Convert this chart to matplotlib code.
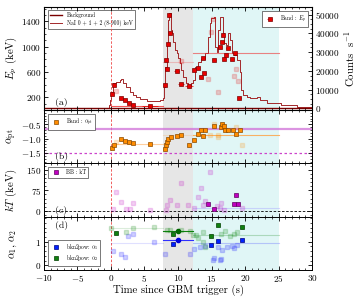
import numpy as np
import matplotlib
matplotlib.use("Agg")
import matplotlib.pyplot as plt
from matplotlib.ticker import MultipleLocator, FixedLocator

plt.rcParams.update({
    "font.family": "serif",
    "font.serif": ["cmr10", "DejaVu Serif"],
    "mathtext.fontset": "cm",
    "axes.formatter.use_mathtext": True,
    "axes.unicode_minus": True,
    "font.size": 7,
})

# ---------------- data ----------------
# light curve (counts/s)
lc_t = [-10, -0.3, -0.1, 0.06, 0.3, 0.8, 1.3, 1.55, 1.8, 2.3, 2.8, 3.3, 3.8, 4.3, 5.3,
        6.3, 7.3, 7.7, 7.9, 8.05, 8.3, 8.55, 8.7, 8.9, 9.05, 9.3, 9.55, 9.8, 10.0, 10.3,
        10.5, 10.75, 11.2, 11.5, 11.9, 12.2, 12.5, 13.0, 13.5, 14.0, 14.4, 14.7, 14.9,
        15.3, 15.5, 15.8, 16.0, 16.3, 16.5, 16.7, 16.9, 17.2, 17.4, 17.8, 18.0, 18.3,
        18.8, 19.2, 19.4, 19.7, 20.3, 20.8, 21.8, 22.3, 23.3, 25.3, 27.8, 30]
lc_c = [400, 1500, 4500, 8900, 13400, 14200, 15100, 15500, 13700, 11200, 8900, 7100,
        5900, 4800, 4100, 3900, 4400, 5350, 11500, 22300, 34800, 47200, 50800, 41900,
        40100, 35600, 31200, 29400, 26700, 24100, 20500, 16900, 13400, 12500, 13400,
        15100, 22300, 24900, 26200, 29400, 38300, 45500, 48200, 49000, 33000, 30300,
        41900, 49000, 49000, 40100, 34800, 33900, 40100, 36500, 29400, 28500, 25800,
        19600, 9800, 7100, 6200, 5350, 5900, 4400, 2700, 1600, 860, 530]
bkg_level = 300

# episodes
episodes = [(0.0, 7.8), (7.8, 12.2), (12.2, 25.0)]

# Band Ep (solid)
ep_t = [0.15, 0.4, 1.55, 2.15, 2.7, 3.3, 5.8, 8.04, 8.15, 8.3, 8.53, 8.64, 8.8, 9.8,
        10.43, 11.63, 12.4, 13.0, 13.43, 13.7, 13.9, 15.4, 16.3, 16.5, 16.7, 16.9,
        17.1, 17.4, 18.1, 18.5, 19.16]
ep_val = [254, 400, 190, 153, 112, 85, 58, 390, 795, 653, 1048, 1495, 1217, 622, 412,
          380, 626, 664, 522, 822, 585, 785, 990, 1075, 1180, 806, 863, 980, 806, 901, 190]
ep_terr = [0.15, 0.15, 0.3, 0.3, 0.3, 0.3, 1.2, 0.1, 0.1, 0.1, 0.1, 0.1, 0.1, 0.4,
           0.4, 0.6, 0.2, 0.2, 0.2, 0.2, 0.2, 0.3, 0.15, 0.15, 0.15, 0.15, 0.15, 0.2,
           0.2, 0.2, 0.2]
# Ep (faded, other model)
ep_f_t = [0.8, 10.5, 14.4, 14.9, 15.2, 15.9, 18.4, 18.7, 19.0]
ep_f_val = [295, 770, 490, 1233, 1438, 280, 530, 650, 453]
# time-integrated Ep per episode
ep_epi = [58, 760, 901]

# Band alpha (solid)
a_t = [0.15, 0.45, 1.45, 2.15, 2.75, 3.35, 5.85, 8.04, 8.14, 8.3, 8.53, 8.94, 9.8,
       10.5, 11.6, 12.4, 13.0, 13.5, 13.7, 14.0, 15.4, 16.4, 16.6, 16.8, 17.0, 17.5,
       18.2, 18.6, 19.2]
a_val = [-1.33, -1.23, -1.03, -1.08, -1.12, -1.16, -1.20, -1.35, -1.23, -1.12, -1.00,
         -0.94, -0.92, -0.88, -1.23, -1.06, -0.85, -0.71, -0.92, -0.71, -0.57, -0.59,
         -0.50, -0.57, -0.69, -0.69, -0.69, -0.85, -0.71]
a_f_t = [0.8, 14.8, 15.3, 15.9, 16.0, 18.7, 19.5]
a_f_val = [-1.12, -0.88, -0.50, -0.94, -0.88, -0.59, -1.23]
a_epi = [-1.18, -0.88, -0.86]
line_of_death = -2.0 / 3.0
fast_cooling = -1.5

# BB kT
kt_t = [14.4, 15.3, 18.4, 18.7, 19.0]
kt_val = [27, 7, 25, 57, 25]
kt_f_t = [0.3, 0.8, 1.55, 2.3, 2.8, 3.3, 5.8, 8.2, 8.3, 8.8, 9.8, 10.5, 11.5, 12.4,
          13.0, 13.5, 13.8, 14.0, 14.8, 15.8, 16.3, 16.4, 16.8, 19.5]
kt_f_val = [7, 68, 32, 7, 7, 29, 2, 5, 23, 39, 23, 102, 23, 11, 51, 82, 23, 38, 142,
            19, 11, 30, 5, 12]
kt_epi = 10

# bkn2pow alpha1 / alpha2
b1_t = [9.3, 14.9, 15.95, 19.6]
b1_val = [0.90, 0.86, 1.02, 1.06]
b2_t = [0.8, 9.3, 14.9, 15.95, 19.6]
b2_val = [1.39, 1.33, 1.24, 1.69, 1.64]
b1_f_t = [0.3, 1.55, 2.05, 2.5, 3.3, 6.4, 8.05, 11.8, 12.45, 13.3, 14.0, 15.2, 15.3,
          16.0, 16.3, 16.4, 16.5, 17.3, 18.0, 18.3, 18.8]
b1_f_val = [0.60, 0.46, 0.36, 1.26, 1.32, 0.97, 0.46, 0.46, 0.69, 0.79, 0.83, 0.21,
            0.29, 0.79, 0.21, 0.26, 0.64, 0.79, 0.83, 0.72, 0.86]
b2_f_t = [0.05, 2.3, 3.3, 6.4, 8.3, 8.8, 10.5, 11.8, 12.3, 12.7, 13.0, 13.8, 13.8,
          14.0, 16.4, 17.0, 17.8, 18.3, 18.8]
b2_f_val = [1.57, 1.43, 1.60, 1.64, 1.50, 1.50, 1.50, 1.46, 1.30, 1.29, 1.17, 1.00,
            1.40, 0.79, 1.32, 1.46, 1.26, 1.33, 1.40]
b1_epi = [0.96, 1.07, 0.96]
b2_epi = [1.60, 1.47, 1.29]
epi_mid = 9.95

# ---------------- figure ----------------
fig = plt.figure(figsize=(3.6, 3.0), dpi=100)
gs = fig.add_gridspec(4, 1, height_ratios=[103, 53, 54, 53], hspace=0,
                      left=0.122, right=0.867, top=0.977, bottom=0.1)
axs = [fig.add_subplot(gs[i]) for i in range(4)]
for a in axs[1:]:
    a.sharex(axs[0])

GREY = "#e6e6e6"
CYAN = "#e0f6f6"
TICK_FS = 6.6
LAB_FS = 7.8

def style(ax, right=True, spans=True):
    ax.tick_params(which="both", direction="in", top=True, right=right,
                   labelsize=TICK_FS, pad=2)
    ax.tick_params(which="major", length=3, width=0.6)
    ax.tick_params(which="minor", length=1.6, width=0.5)
    for s in ax.spines.values():
        s.set_linewidth(0.7)
    if spans:
        ax.axvspan(episodes[1][0], episodes[1][1], color=GREY, zorder=0, lw=0)
        ax.axvspan(episodes[2][0], episodes[2][1], color=CYAN, zorder=0, lw=0)
    ax.axvline(0, color="#ee4444", ls=(0, (3, 2)), lw=0.6, zorder=1)
    ax.set_xlim(-10, 30)
    ax.xaxis.set_major_locator(MultipleLocator(5))
    ax.xaxis.set_minor_locator(MultipleLocator(1))

def solid(ax, t, v, fc, ec, xerr=None, ms=3.2, label=None):
    ax.errorbar(t, v, xerr=xerr, fmt="s", ms=ms, mfc=fc, mec=ec, mew=0.5,
                ecolor=fc, elinewidth=0.5, capsize=0, zorder=5, label=label)

def faded(ax, t, v, fc):
    ax.plot(t, v, "s", ms=3.2, mfc=fc, mec=fc, alpha=0.18, zorder=3, lw=0)

def epi_line(ax, vals, color, alphas):
    for (t0, t1), v, al in zip(episodes, vals, alphas):
        ax.plot([t0, t1], [v, v], color=color, lw=0.8, alpha=al, zorder=2)

# ---- panel (a)
ax = axs[0]
style(ax, right=False, spans=False)
axr = ax.twinx()
axr.axvspan(episodes[1][0], episodes[1][1], color=GREY, zorder=0, lw=0)
axr.axvspan(episodes[2][0], episodes[2][1], color=CYAN, zorder=0, lw=0)
axr.step(lc_t, lc_c, where="post", color="#a3282a", lw=0.7, zorder=2,
         label="NaI 0 + 1 + 2 (8-900) keV")
axr.plot([-10, 30], [bkg_level, bkg_level], color="#7a0000", lw=1.0, zorder=2,
         label="Background")
axr.set_ylim(-900, 54200)
axr.yaxis.set_major_locator(MultipleLocator(10000))
axr.yaxis.set_minor_locator(MultipleLocator(2500))
axr.tick_params(which="both", direction="in", labelsize=TICK_FS, pad=2)
axr.tick_params(which="major", length=3, width=0.6)
axr.tick_params(which="minor", length=1.6, width=0.5)
axr.set_ylabel("Counts  s$^{-1}$", fontsize=LAB_FS, labelpad=2)
h1, l1 = axr.get_legend_handles_labels()
leg1 = axr.legend(h1[::-1], l1[::-1], loc="upper left", fontsize=4, frameon=True,
                  fancybox=False, edgecolor="#444444", framealpha=1,
                  borderpad=0.4, handlelength=2.2, labelspacing=0.3,
                  bbox_to_anchor=(0.005, 0.995))
leg1.get_frame().set_linewidth(0.5)
leg1.set_zorder(20)

ax.set_zorder(axr.get_zorder() + 1)
ax.patch.set_visible(False)

epi_line(ax, ep_epi, "#ee3333", [0.8, 0.25, 0.6])
faded(ax, ep_f_t, ep_f_val, "#e00000")
solid(ax, ep_t, ep_val, "#e80000", "#7a0000", xerr=ep_terr, label="Band : $E_p$")
ax.set_ylim(0, 1630)
ax.yaxis.set_major_locator(FixedLocator([200, 600, 1000, 1400]))
ax.yaxis.set_minor_locator(MultipleLocator(100))
ax.set_ylabel("$E_p$ (keV)", fontsize=LAB_FS, labelpad=1)
leg = ax.legend(loc="upper right", fontsize=4, fancybox=False, edgecolor="#444444",
                framealpha=1, borderpad=0.4, handletextpad=0.8,
                bbox_to_anchor=(0.995, 0.985))
leg.get_frame().set_linewidth(0.5)
ax.text(0.04, 0.05, "(a)", transform=ax.transAxes, fontsize=7)
ax.tick_params(labelbottom=False)

# ---- panel (b)
ax = axs[1]
style(ax)
ax.axhline(line_of_death, color="#d070d8", lw=1.6, alpha=0.75, zorder=1)
ax.axhline(fast_cooling, color="#cc44cc", lw=0.9, ls=(0, (2, 2)), zorder=1)
epi_line(ax, a_epi, "#ffa040", [0.5, 0.2, 0.8])
faded(ax, a_f_t, a_f_val, "#ff8c00")
solid(ax, a_t, a_val, "#ff8c00", "#8a4a00", label=r"Band : $\alpha_{pt}$")
ax.set_ylim(-1.85, 0.0)
ax.yaxis.set_major_locator(FixedLocator([-0.5, -1.0, -1.5]))
ax.yaxis.set_minor_locator(MultipleLocator(0.1))
ax.set_ylabel(r"$\alpha_{\rm pt}$", fontsize=LAB_FS, labelpad=1)
leg = ax.legend(loc="upper left", fontsize=4, fancybox=False, edgecolor="#444444",
                framealpha=1, borderpad=0.4, bbox_to_anchor=(0.005, 0.97))
leg.get_frame().set_linewidth(0.5)
ax.text(0.04, 0.07, "(b)", transform=ax.transAxes, fontsize=7)
ax.tick_params(labelbottom=False)

# ---- panel (c)
ax = axs[2]
style(ax)
ax.axhline(0, color="black", lw=0.6, ls=(0, (3, 2)), zorder=1)
ax.plot([episodes[2][0], episodes[2][1]], [kt_epi, kt_epi], color="#b0b0ff",
        lw=0.8, alpha=0.5, zorder=2)
faded(ax, kt_f_t, kt_f_val, "#c000c0")
solid(ax, kt_t, kt_val, "#c000c0", "#600060", label="BB : kT")
ax.set_ylim(-22, 175)
ax.yaxis.set_major_locator(FixedLocator([0, 75, 150]))
ax.yaxis.set_minor_locator(MultipleLocator(15))
ax.set_ylabel("$kT$ (keV)", fontsize=LAB_FS, labelpad=1)
leg = ax.legend(loc="upper left", fontsize=4, fancybox=False, edgecolor="#444444",
                framealpha=1, borderpad=0.4, bbox_to_anchor=(0.005, 0.97))
leg.get_frame().set_linewidth(0.5)
ax.text(0.04, 0.07, "(c)", transform=ax.transAxes, fontsize=7)
ax.tick_params(labelbottom=False)

# ---- panel (d)
ax = axs[3]
style(ax)
for (t0, t1), v1, v2, al in zip(episodes, b1_epi, b2_epi, [0.15, 1.0, 0.25]):
    ax.plot([t0, t1], [v1, v1], color="#3030ff", lw=0.8, alpha=al, zorder=2)
    ax.plot([t0, t1], [v2, v2], color="#108010", lw=0.8, alpha=al, zorder=2)
ax.plot([epi_mid], [b1_epi[1]], "o", ms=3, color="#0000dd", zorder=6)
ax.plot([epi_mid], [b2_epi[1]], "o", ms=3, color="#006600", zorder=6)
faded(ax, b1_f_t, b1_f_val, "#0000ff")
faded(ax, b2_f_t, b2_f_val, "#008000")
solid(ax, b1_t, b1_val, "#0022ff", "#000080", label=r"bkn2pow: $\alpha_1$")
solid(ax, b2_t, b2_val, "#108010", "#004000", label=r"bkn2pow: $\alpha_2$")
ax.set_ylim(-0.2, 2.05)
ax.yaxis.set_major_locator(FixedLocator([0, 1]))
ax.yaxis.set_minor_locator(MultipleLocator(0.2))
ax.set_ylabel(r"$\alpha_1,\,\alpha_2$", fontsize=LAB_FS, labelpad=1)
leg = ax.legend(loc="lower left", fontsize=4, fancybox=False, edgecolor="#444444",
                framealpha=1, borderpad=0.4, labelspacing=0.3,
                bbox_to_anchor=(0.005, 0.03))
leg.get_frame().set_linewidth(0.5)
ax.text(0.04, 0.8, "(d)", transform=ax.transAxes, fontsize=7)
ax.set_xlabel("Time since GBM trigger (s)", fontsize=LAB_FS, labelpad=1)

fig.align_ylabels(axs)
fig.savefig("out.png", dpi=100)
